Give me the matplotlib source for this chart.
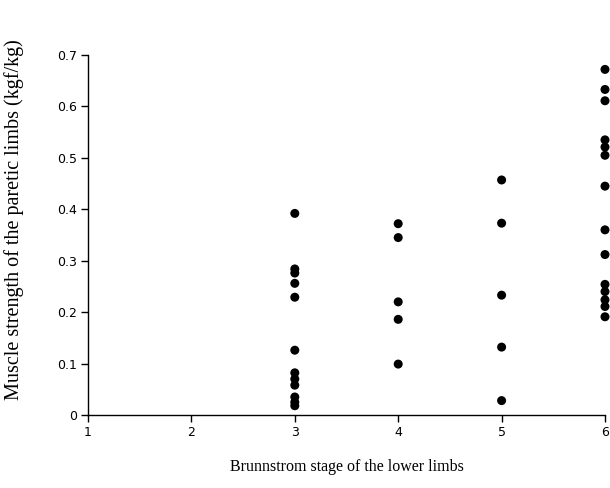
import numpy as np
import matplotlib
matplotlib.use("Agg")
import matplotlib.pyplot as plt

stage3 = [0.392, 0.284, 0.276, 0.256, 0.229, 0.126, 0.082, 0.070, 0.058, 0.035, 0.025, 0.018]
stage4 = [0.372, 0.345, 0.220, 0.186, 0.099]
stage5 = [0.457, 0.373, 0.233, 0.132, 0.028]
stage6 = [0.672, 0.633, 0.611, 0.535, 0.521, 0.505, 0.445, 0.360, 0.312,
          0.254, 0.240, 0.224, 0.211, 0.191]

xticks = [1, 2, 3, 4, 5, 6]
yticks = [0, 0.1, 0.2, 0.3, 0.4, 0.5, 0.6, 0.7]


def main():
    fig = plt.figure(figsize=(6.1, 4.88), dpi=100)
    ax = fig.add_axes([88 / 610, 1 - 415 / 488, (605 - 88) / 610, (415 - 55) / 488])

    for stage, vals in zip([3, 4, 5, 6], [stage3, stage4, stage5, stage6]):
        ax.scatter([stage] * len(vals), vals, s=42, color="black",
                   edgecolors="none", clip_on=False, zorder=3)

    ax.set_xlim(1, 6)
    ax.set_ylim(0, 0.7)
    ax.set_xticks(xticks)
    ax.set_yticks(yticks)
    ax.set_xticklabels([str(t) for t in xticks])
    ax.set_yticklabels(["0"] + ["%.1f" % t for t in yticks[1:]])
    ax.spines["top"].set_visible(False)
    ax.spines["right"].set_visible(False)
    ax.spines["left"].set_linewidth(1.0)
    ax.spines["bottom"].set_linewidth(1.0)
    ax.tick_params(direction="out", length=5, width=1, pad=3,
                   labelsize=9)

    ax.set_xlabel("Brunnstrom stage of the lower limbs", family="Liberation Serif",
                  fontsize=11.5, labelpad=14)
    ax.set_ylabel("Muscle strength of the paretic limbs (kgf/kg)", family="Liberation Serif",
                  fontsize=14.5)
    ax.yaxis.set_label_coords(-0.124, 0.544)

    fig.savefig("out.png", dpi=100)


if __name__ == "__main__":
    main()
